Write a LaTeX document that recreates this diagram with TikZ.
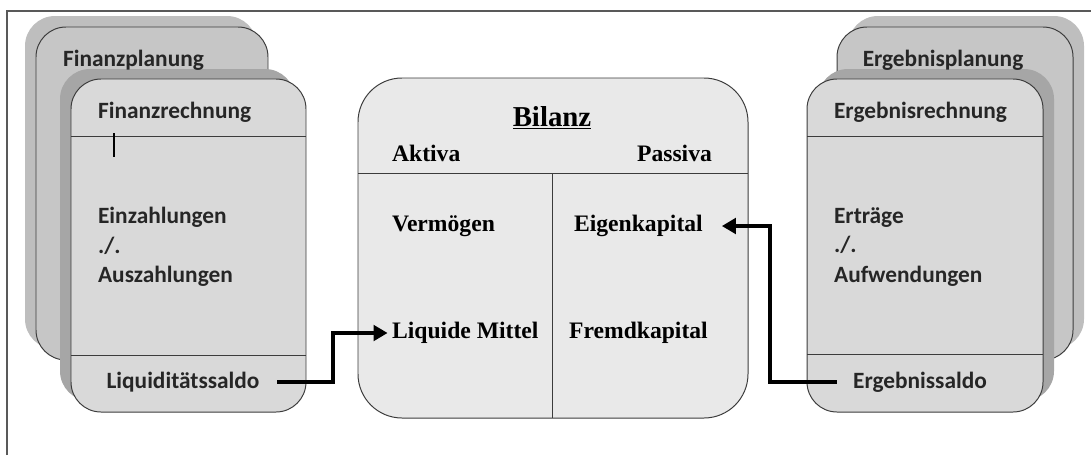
\documentclass[tikz,border=0pt]{standalone}
\usepackage{fontspec}
\setmainfont{Liberation Serif}
\newfontfamily\calfont{Carlito}
\usepackage{tikz}
\usetikzlibrary{arrows.meta,calc,positioning}
\definecolor{backgray}{HTML}{C6C6C6}
\definecolor{backshade}{HTML}{BEBEBE}
\definecolor{frontgray}{HTML}{D9D9D9}
\definecolor{frontshade}{HTML}{A6A6A6}
\definecolor{bilanzgray}{HTML}{E9E9E9}
\definecolor{cardline}{HTML}{3C3C3C}
\tikzset{
  backcard/.style={draw=cardline, fill=backgray, line width=0.7pt, rounded corners=0.75cm},
  frontcard/.style={draw=cardline, fill=frontgray, line width=0.7pt, rounded corners=0.75cm},
  bilanzcard/.style={draw=cardline, fill=bilanzgray, line width=0.7pt, rounded corners=1.1cm},
  sep/.style={draw=cardline, line width=0.7pt},
  cardtext/.style={font=\calfont\bfseries\fontsize{16.6}{21}\selectfont, text=black!85, inner sep=2pt, align=left},
  bilanztext/.style={font=\bfseries\fontsize{16.8}{19}\selectfont, inner sep=2pt},
  flow/.style={line width=2.8pt, -{Triangle[length=10pt,width=11pt]}}
}
\begin{document}
\begin{tikzpicture}[x=0.025cm,y=-0.025cm]
\useasboundingbox (0,0) rectangle (1091,455);
\draw[black!65, line width=0.8pt] (7,455) -- (7,11) -- (1091,11);
% Finanzseite
\fill[backshade, rounded corners=0.75cm] (25,16) rectangle (257,349);
\draw[backcard] (36,27) rectangle (268,360);
\fill[frontshade, rounded corners=0.75cm] (60,69) rectangle (295,401);
\draw[frontcard] (71,79) rectangle (306,412);
\draw[sep] (71,136) -- (306,136);
\draw[sep] (71,355) -- (306,355);
\draw[line width=0.8pt] (114,133) -- (114,157);
\node[cardtext, anchor=west] (fplan) at (60,60) {Finanzplanung};
\node[cardtext, anchor=west] (frech) at (95,112) {Finanzrechnung};
\node[cardtext, anchor=west] (fein) at (95,247) {Einzahlungen\\./.\\Auszahlungen};
\node[cardtext] (lsaldo) at (183,382) {Liquiditätssaldo};
% Ergebnisseite
\fill[backshade, rounded corners=0.75cm] (848,16) rectangle (1084,349);
\draw[backcard] (837,27) rectangle (1073,360);
\fill[frontshade, rounded corners=0.75cm] (818,69) rectangle (1054,401);
\draw[frontcard] (807,79) rectangle (1043,412);
\draw[sep] (807,136) -- (1043,136);
\draw[sep] (807,354) -- (1043,354);
\node[cardtext] (eplan) at (943,60) {Ergebnisplanung};
\node[cardtext, anchor=west] (erech) at (831,112) {Ergebnisrechnung};
\node[cardtext, anchor=west] (eertr) at (831,247) {Erträge\\./.\\Aufwendungen};
\node[cardtext] (esaldo) at (920,382) {Ergebnissaldo};
% Bilanz
\draw[bilanzcard] (358,78) rectangle (748,418);
\draw[sep] (358,173) -- (748,173);
\draw[sep] (552,173) -- (552,418);
\node[bilanztext, font=\bfseries\fontsize{20.5}{24}\selectfont] (bilanz) at (552,118) {\underline{Bilanz}};
\node[bilanztext, anchor=west] (aktiva) at (389,153) {Aktiva};
\node[bilanztext, anchor=east] (passiva) at (715,153) {Passiva};
\node[bilanztext, anchor=west] (verm) at (389,226) {Vermögen};
\node[bilanztext, anchor=west] (ek) at (571,226) {Eigenkapital};
\node[bilanztext, anchor=west] (lm) at (389,333) {Liquide Mittel};
\node[bilanztext, anchor=west] (fk) at (566,333) {Fremdkapital};
% Pfeile
\coordinate (kl) at (333,0);
\coordinate (kr) at (770,0);
\draw[flow] ([xshift=0.37cm]lsaldo.east) -| (kl |- lm.west) -- ([xshift=-1pt]lm.west);
\draw[flow] ([xshift=-0.33cm]esaldo.west) -| (kr |- ek.east) -- ([xshift=0.4cm]ek.east);
\end{tikzpicture}
\end{document}
